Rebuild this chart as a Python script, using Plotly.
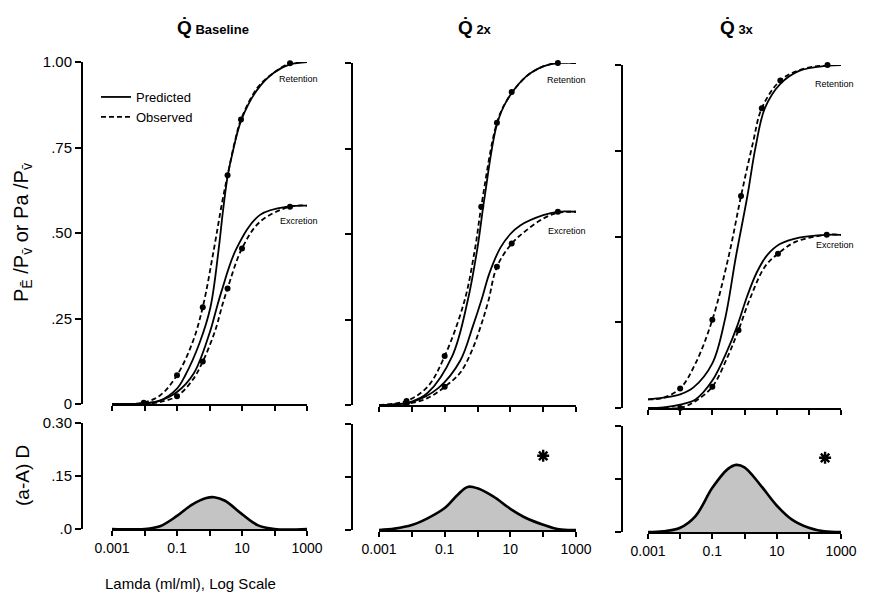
import math
import plotly.graph_objects as go

FONT = "Liberation Sans, Arial, sans-serif"

# ---------------- tick labels ----------------
x_tickvals = [0.001, 0.01, 0.1, 1, 10, 100, 1000]
x_ticktext = ["0.001", "", "0.1", "", "10", "", "1000"]
upper_tickvals = [0, 0.25, 0.5, 0.75, 1.0]
upper_ticktext = ["0", ".25", ".50", ".75", "1.00"]
lower_tickvals = [0, 0.15, 0.30]
lower_ticktext = [".0", ".15", "0.30"]

panel_titles = ["Q\u0307 Baseline", "Q\u0307 2x", "Q\u0307 3x"]

# ---------------- Panel 1 : baseline ----------------
p1_ret_obs_x = [0.001, 0.003, 0.0095, 0.03, 0.1, 0.3, 0.62, 1.35, 2.45, 3.6, 6.3, 9.3, 30, 100, 300, 1000]
p1_ret_obs_y = [0, 0.0, 0.004, 0.025, 0.084, 0.18, 0.283, 0.45, 0.59, 0.669, 0.775, 0.832, 0.925, 0.97, 0.996, 1.0]
p1_ret_pred_x = [0.001, 0.003, 0.01, 0.03, 0.1, 0.18, 0.5, 1.07, 1.9, 2.6, 3.6, 5, 9.5, 30, 100, 300, 1000]
p1_ret_pred_y = [0, 0.0, 0.002, 0.01, 0.045, 0.084, 0.18, 0.283, 0.45, 0.565, 0.665, 0.73, 0.83, 0.92, 0.97, 0.993, 1.0]
p1_exc_obs_x = [0.001, 0.003, 0.01, 0.03, 0.1, 0.3, 0.62, 1.5, 2.5, 3.6, 10, 36, 300, 1000]
p1_exc_obs_y = [0, 0.0, 0.0, 0.006, 0.023, 0.07, 0.124, 0.215, 0.29, 0.338, 0.455, 0.533, 0.577, 0.58]
p1_exc_pred_x = [0.001, 0.003, 0.01, 0.03, 0.1, 0.33, 1.0, 1.6, 2.35, 6.8, 36, 300, 1000]
p1_exc_pred_y = [0, 0.0, 0.002, 0.01, 0.035, 0.09, 0.207, 0.275, 0.33, 0.455, 0.553, 0.578, 0.58]
p1_ret_pts_x = [0.0095, 0.1, 0.62, 3.6, 9.3, 300]
p1_ret_pts_y = [0.004, 0.084, 0.283, 0.669, 0.832, 0.996]
p1_exc_pts_x = [0.1, 0.62, 3.6, 10, 300]
p1_exc_pts_y = [0.023, 0.124, 0.338, 0.455, 0.577]
p1_dist_x = [0.001, 0.01, 0.03, 0.1, 0.3, 0.8, 1.4, 3, 10, 30, 100, 1000]
p1_dist_y = [0, 0, 0.008, 0.037, 0.07, 0.088, 0.09, 0.08, 0.042, 0.011, 0.0, 0]

# ---------------- Panel 2 : 2x ----------------
p2_ret_obs_x = [0.001, 0.0069, 0.03, 0.1, 0.4, 0.85, 1.3, 3.9, 7.8, 30, 100, 280, 1000]
p2_ret_obs_y = [0, 0.012, 0.053, 0.143, 0.304, 0.46, 0.58, 0.825, 0.89, 0.96, 0.99, 1.0, 1.0]
p2_ret_pred_x = [0.001, 0.003, 0.01, 0.03, 0.17, 0.5, 1.0, 1.6, 3.9, 7.8, 30, 100, 280, 1000]
p2_ret_pred_y = [0, 0.002, 0.01, 0.035, 0.143, 0.304, 0.46, 0.6, 0.82, 0.89, 0.96, 0.99, 1.0, 1.0]
p2_exc_obs_x = [0.001, 0.0069, 0.03, 0.1, 0.3, 0.68, 1.3, 2.15, 3.9, 11, 30, 100, 280, 1000]
p2_exc_obs_y = [0, 0.003, 0.02, 0.053, 0.095, 0.16, 0.235, 0.305, 0.404, 0.472, 0.51, 0.545, 0.562, 0.565]
p2_exc_pred_x = [0.001, 0.003, 0.01, 0.065, 0.3, 0.72, 1.35, 2.3, 5, 10, 20, 100, 280, 1000]
p2_exc_pred_y = [0, 0.002, 0.008, 0.05, 0.13, 0.23, 0.31, 0.385, 0.46, 0.5, 0.525, 0.555, 0.565, 0.565]
p2_ret_pts_x = [0.0069, 0.1, 1.3, 3.9, 11, 280]
p2_ret_pts_y = [0.012, 0.143, 0.58, 0.825, 0.915, 1.0]
p2_exc_pts_x = [0.0069, 0.1, 3.9, 11, 280]
p2_exc_pts_y = [0.003, 0.053, 0.404, 0.472, 0.565]
p2_dist_x = [0.001, 0.003, 0.01, 0.03, 0.1, 0.25, 0.5, 1, 3, 10, 30, 100, 300, 1000]
p2_dist_y = [0, 0.004, 0.014, 0.033, 0.062, 0.1, 0.122, 0.118, 0.095, 0.06, 0.034, 0.015, 0.002, 0]
p2_star_x = [100]
p2_star_y = [0.21]

# ---------------- Panel 3 : 3x ----------------
p3_ret_obs_x = [0.001, 0.003, 0.01, 0.03, 0.1, 0.32, 0.78, 1.8, 3.45, 13, 50, 380, 1000]
p3_ret_obs_y = [0.025, 0.03, 0.057, 0.13, 0.257, 0.441, 0.618, 0.77, 0.874, 0.955, 0.985, 1.0, 1.0]
p3_ret_pred_x = [0.001, 0.003, 0.01, 0.026, 0.1, 0.245, 0.54, 1.23, 2.2, 4.3, 13, 50, 380, 1000]
p3_ret_pred_y = [0.025, 0.03, 0.04, 0.06, 0.13, 0.257, 0.441, 0.618, 0.76, 0.874, 0.945, 0.983, 0.998, 1.0]
p3_exc_obs_x = [0.001, 0.003, 0.01, 0.03, 0.1, 0.3, 0.65, 1.5, 4.3, 11, 40, 360, 1000]
p3_exc_obs_y = [0, 0.0, 0.0, 0.02, 0.062, 0.15, 0.227, 0.32, 0.412, 0.45, 0.485, 0.505, 0.505]
p3_exc_pred_x = [0.001, 0.003, 0.01, 0.03, 0.1, 0.3, 0.6, 1.2, 2.4, 5, 12.6, 50, 360, 1000]
p3_exc_pred_y = [0, 0.002, 0.01, 0.025, 0.08, 0.17, 0.24, 0.325, 0.395, 0.445, 0.478, 0.497, 0.505, 0.505]
p3_ret_pts_x = [0.01, 0.1, 0.78, 3.45, 13, 380]
p3_ret_pts_y = [0.057, 0.257, 0.618, 0.874, 0.955, 1.0]
p3_exc_pts_x = [0.01, 0.1, 0.65, 11, 360]
p3_exc_pts_y = [0.0, 0.062, 0.227, 0.45, 0.505]
p3_dist_x = [0.001, 0.003, 0.01, 0.03, 0.1, 0.3, 0.55, 1, 3, 10, 30, 100, 300, 1000]
p3_dist_y = [0, 0.002, 0.012, 0.045, 0.125, 0.178, 0.19, 0.183, 0.135, 0.075, 0.035, 0.012, 0.002, 0]
p3_star_x = [320]
p3_star_y = [0.21]

# label anchor values (data units)
p_label_x = [560, 520, 640]
p_ret_label_y = [0.95, 0.95, 0.945]
p_exc_label_y = [0.535, 0.51, 0.475]

panels = [
    dict(ret_obs=(p1_ret_obs_x, p1_ret_obs_y), ret_pred=(p1_ret_pred_x, p1_ret_pred_y),
         exc_obs=(p1_exc_obs_x, p1_exc_obs_y), exc_pred=(p1_exc_pred_x, p1_exc_pred_y),
         ret_pts=(p1_ret_pts_x, p1_ret_pts_y), exc_pts=(p1_exc_pts_x, p1_exc_pts_y),
         dist=(p1_dist_x, p1_dist_y), star=None),
    dict(ret_obs=(p2_ret_obs_x, p2_ret_obs_y), ret_pred=(p2_ret_pred_x, p2_ret_pred_y),
         exc_obs=(p2_exc_obs_x, p2_exc_obs_y), exc_pred=(p2_exc_pred_x, p2_exc_pred_y),
         ret_pts=(p2_ret_pts_x, p2_ret_pts_y), exc_pts=(p2_exc_pts_x, p2_exc_pts_y),
         dist=(p2_dist_x, p2_dist_y), star=(p2_star_x, p2_star_y)),
    dict(ret_obs=(p3_ret_obs_x, p3_ret_obs_y), ret_pred=(p3_ret_pred_x, p3_ret_pred_y),
         exc_obs=(p3_exc_obs_x, p3_exc_obs_y), exc_pred=(p3_exc_pred_x, p3_exc_pred_y),
         ret_pts=(p3_ret_pts_x, p3_ret_pts_y), exc_pts=(p3_exc_pts_x, p3_exc_pts_y),
         dist=(p3_dist_x, p3_dist_y), star=(p3_star_x, p3_star_y)),
]

# ---------------- layout geometry (page pixels -> paper) ----------------
OFF = 8                      # page body margin
W, H = 869 - OFF, 600 - OFF  # figure size so the page is filled


def fx(px):
    return (px - OFF) / W


def fy(py):
    return 1 - (py - OFF) / H


x_px = [(112, 307), (379, 576), (648, 841)]
y_axis_px = [82, 352, 622]
upper_px = [(62, 404), (63, 405), (65, 408)]
lower_px = [(423, 529), (424, 530), (426, 532)]
title_px = [213, 475, 737]


def ax_id(n):
    return "" if n == 1 else str(n)


fig = go.Figure()
SOLID = dict(color="black", width=1.8)
DASH = dict(color="black", width=1.8, dash="5px,3px")

for i, p in enumerate(panels):
    nu, nl = 2 * i + 1, 2 * i + 2
    xu, yu = "x" + ax_id(nu), "y" + ax_id(nu)
    xl, yl = "x" + ax_id(nl), "y" + ax_id(nl)
    first = (i == 0)
    fig.add_trace(go.Scatter(x=p["ret_pred"][0], y=p["ret_pred"][1], mode="lines", line=SOLID,
                             line_shape="spline", xaxis=xu, yaxis=yu, cliponaxis=False,
                             name="Predicted", showlegend=first, legendrank=1))
    fig.add_trace(go.Scatter(x=p["exc_pred"][0], y=p["exc_pred"][1], mode="lines", line=SOLID,
                             line_shape="spline", xaxis=xu, yaxis=yu, cliponaxis=False,
                             showlegend=False))
    fig.add_trace(go.Scatter(x=p["ret_obs"][0], y=p["ret_obs"][1], mode="lines", line=DASH,
                             line_shape="spline", xaxis=xu, yaxis=yu, cliponaxis=False,
                             name="Observed", showlegend=first, legendrank=2))
    fig.add_trace(go.Scatter(x=p["exc_obs"][0], y=p["exc_obs"][1], mode="lines", line=DASH,
                             line_shape="spline", xaxis=xu, yaxis=yu, cliponaxis=False,
                             showlegend=False))
    for key in ("ret_pts", "exc_pts"):
        fig.add_trace(go.Scatter(x=p[key][0], y=p[key][1], mode="markers",
                                 marker=dict(color="black", size=6), xaxis=xu, yaxis=yu,
                                 cliponaxis=False, showlegend=False))
    fig.add_trace(go.Scatter(x=p["dist"][0], y=p["dist"][1], mode="lines", line=dict(color="black", width=2.6),
                             line_shape="spline", fill="tozeroy", fillcolor="rgb(196,196,196)",
                             xaxis=xl, yaxis=yl, cliponaxis=False, showlegend=False))
    if p["star"] is not None:
        fig.add_trace(go.Scatter(x=p["star"][0], y=p["star"][1], mode="markers",
                                 marker=dict(symbol="asterisk-open", size=10, color="black",
                                             line=dict(color="black", width=2.4)),
                                 xaxis=xl, yaxis=yl, showlegend=False))

    common_x = dict(domain=[fx(x_px[i][0]), fx(x_px[i][1])], type="log", range=[-3, 3],
                    tickvals=x_tickvals, ticktext=x_ticktext, ticks="outside", ticklen=5, tickwidth=1.5,
                    tickcolor="black", showline=True, linewidth=1.8, linecolor="black", showgrid=False,
                    zeroline=False, automargin=False, tickfont=dict(family=FONT, size=14, color="black"))
    fig.layout["xaxis" + ax_id(nu)] = dict(common_x, anchor=yu, showticklabels=False)
    fig.layout["xaxis" + ax_id(nl)] = dict(common_x, anchor=yl, showticklabels=True)

    common_y = dict(anchor="free", position=fx(y_axis_px[i]), ticks="outside", ticklen=6, tickwidth=1.5,
                    tickcolor="black", showline=True, linewidth=2, linecolor="black", showgrid=False,
                    zeroline=False, automargin=False, tickfont=dict(family=FONT, size=15, color="black"),
                    showticklabels=first)
    fig.layout["yaxis" + ax_id(nu)] = dict(common_y, domain=[fy(upper_px[i][1]), fy(upper_px[i][0])],
                                           range=[0, 1], tickvals=upper_tickvals, ticktext=upper_ticktext)
    fig.layout["yaxis" + ax_id(nl)] = dict(common_y, domain=[fy(lower_px[i][1]), fy(lower_px[i][0])],
                                           range=[0, 0.30], tickvals=lower_tickvals, ticktext=lower_ticktext)

    fig.add_annotation(text="Retention", x=math.log10(p_label_x[i]), y=p_ret_label_y[i], xref=xu, yref=yu,
                       xanchor="center", yanchor="middle",
                       showarrow=False, font=dict(family=FONT, size=9, color="black"))
    fig.add_annotation(text="Excretion", x=math.log10(p_label_x[i]), y=p_exc_label_y[i], xref=xu, yref=yu,
                       xanchor="center", yanchor="middle",
                       showarrow=False, font=dict(family=FONT, size=9, color="black"))
    q, rest = panel_titles[i].split(" ", 1)
    fig.add_annotation(text="<b><span style='font-size:19px'>" + q + "</span> " + rest + "</b>",
                       x=fx(title_px[i]), y=fy(28), xref="paper", yref="paper", showarrow=False,
                       xanchor="center", yanchor="middle",
                       font=dict(family=FONT, size=13, color="black"))

fig.add_annotation(text="P<sub>E\u0304</sub> /P<sub>v\u0304</sub> or Pa /P<sub>v\u0304</sub>",
                   x=fx(22), y=fy(233), xref="paper", yref="paper", textangle=-90, showarrow=False,
                   xanchor="center", yanchor="middle",
                   font=dict(family=FONT, size=20, color="black"))
fig.add_annotation(text="(a-A) D", x=fx(22), y=fy(476), xref="paper", yref="paper", textangle=-90,
                   showarrow=False, xanchor="center", yanchor="middle",
                   font=dict(family=FONT, size=19, color="black"))
fig.add_annotation(text="Lamda (ml/ml), Log Scale", x=fx(190), y=fy(583), xref="paper", yref="paper",
                   showarrow=False, xanchor="center", yanchor="middle",
                   font=dict(family=FONT, size=15, color="black"))

fig.update_layout(
    width=W, height=H, autosize=False,
    margin=dict(l=0, r=0, t=0, b=0, pad=0, autoexpand=False),
    paper_bgcolor="white", plot_bgcolor="white",
    legend=dict(x=fx(96), y=fy(82), xanchor="left", yanchor="top", bgcolor="rgba(0,0,0,0)",
                font=dict(family=FONT, size=13, color="black"), tracegroupgap=0, itemwidth=30),
    showlegend=True,
)

fig.write_html("out.html")
